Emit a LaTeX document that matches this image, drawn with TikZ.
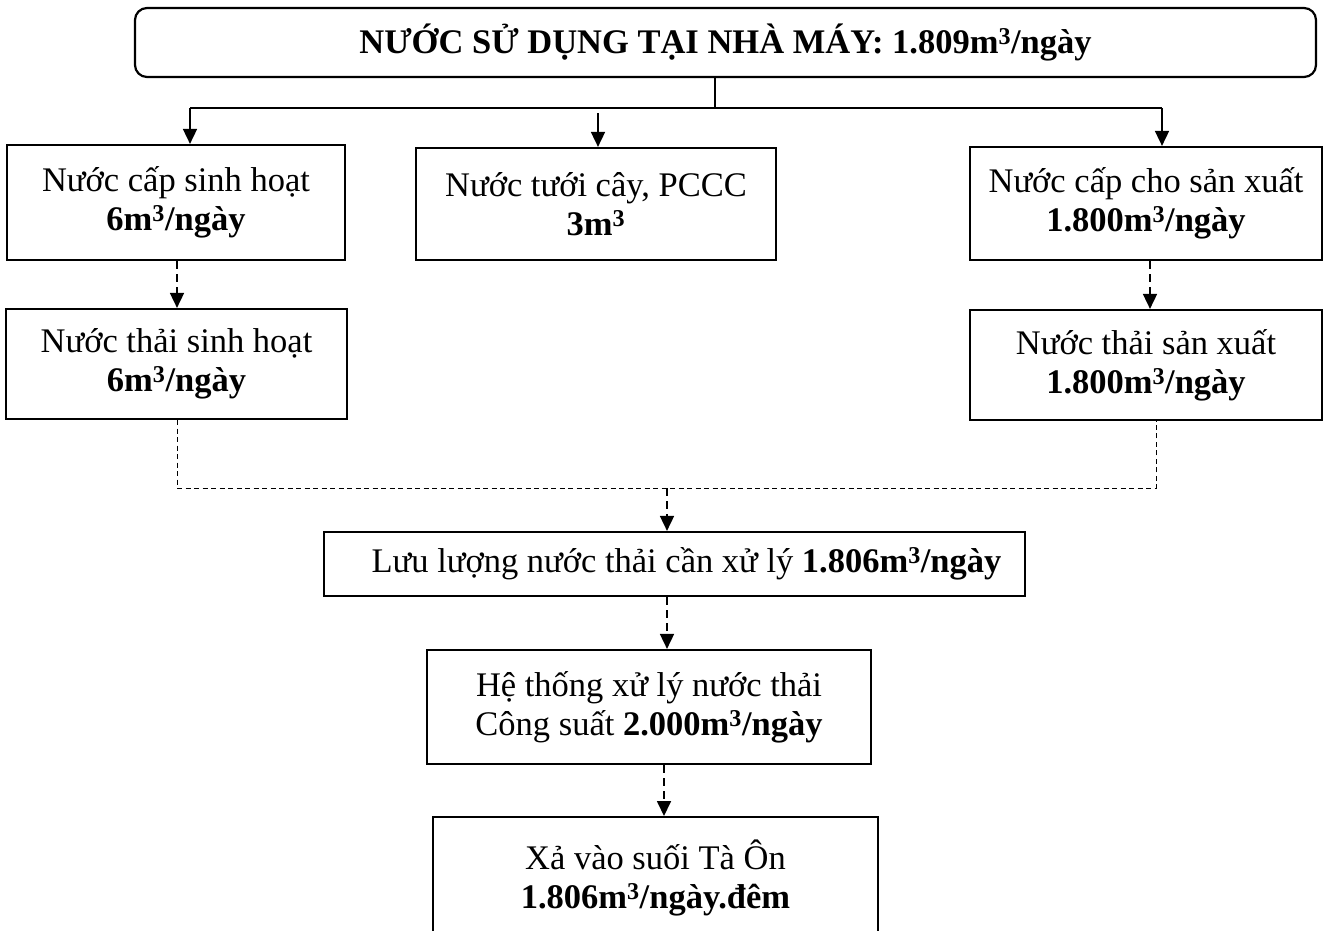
\documentclass[tikz,border=0pt]{standalone}
\usepackage{fontspec}
\setmainfont{Liberation Serif}
\usetikzlibrary{arrows.meta}

% cubic metre unit
\newcommand\cubem{m\textsuperscript{3}}
\newcommand\bodysize{\fontsize{34.5}{39}\selectfont}

\tikzset{
  box/.style={draw, line width=2.2pt, rectangle, inner sep=0pt, align=center, font=\bodysize},
  headbox/.style={box, rounded corners=12pt, font=\bodysize\bfseries},
  link/.style={line width=1.3pt},
  dlink/.style={line width=1pt, dash pattern=on 5pt off 3.5pt},
  arr/.style={line width=1.7pt, -{Triangle[width=14pt,length=15pt]}},
  darr/.style={arr, dash pattern=on 8pt off 5pt},
}

\begin{document}
\begin{tikzpicture}[x=1pt, y=-1pt]
  \useasboundingbox (0,0) rectangle (1330,930);
  \clip (0,0) rectangle (1330,930);

  % header
  \node[headbox, minimum width=1181, minimum height=69] (top) at (725.5,42.5)
    {NƯỚC SỬ DỤNG TẠI NHÀ MÁY: 1.809\cubem/ngày};

  % water supply branches
  \node[box, minimum width=338, minimum height=115] (cs) at (176,202.5)
    {Nước cấp sinh hoạt\\\textbf{6\cubem/ngày}};
  \node[box, minimum width=360, minimum height=112] (tc) at (596,204)
    {Nước tưới cây, PCCC\\\textbf{3\cubem}};
  \node[box, minimum width=352, minimum height=113] (cx) at (1146,203.5)
    {Nước cấp cho sản xuất\\\textbf{1.800\cubem/ngày}};

  % wastewater
  \node[box, minimum width=341, minimum height=110] (ts) at (176.5,364)
    {Nước thải sinh hoạt\\\textbf{6\cubem/ngày}};
  \node[box, minimum width=352, minimum height=110] (tx) at (1146,365)
    {Nước thải sản xuất\\\textbf{1.800\cubem/ngày}};

  % treatment chain
  \node[box, minimum width=701, minimum height=64] (ll) at (674.5,564)
    {\hspace*{24pt}Lưu lượng nước thải cần xử lý \textbf{1.806\cubem/ngày}};
  \node[box, minimum width=444, minimum height=114] (ht) at (649,707)
    {Hệ thống xử lý nước thải\\Công suất \textbf{2.000\cubem/ngày}};
  \node[box, anchor=north, minimum width=445, inner ysep=23pt] (xa) at (655.5,816)
    {Xả vào suối Tà Ôn\\\textbf{1.806\cubem/ngày.đêm}\\[40pt]};

  % distribution lines
  \coordinate (stem) at (715,108);
  \coordinate (hl) at (190,108);
  \coordinate (hr) at (1162,108);
  \coordinate (mt) at (598,113);
  \draw[link] (top.south -| stem) -- (stem);
  \draw[link] (hl) -- (hr);
  \draw[arr] (hl) -- (cs.north -| hl);
  \draw[arr] (mt) -- (tc.north -| mt);
  \draw[arr] (hr) -- (cx.north -| hr);

  % supply to wastewater
  \coordinate (jl) at (177,488);
  \coordinate (jr) at (1156,488);
  \coordinate (rx) at (1150,300);
  \draw[darr] (cs.south -| jl) -- (ts.north -| jl);
  \draw[darr] (cx.south -| rx) -- (tx.north -| rx);

  % collection and treatment
  \coordinate (jm) at (667,488);
  \coordinate (bx) at (664,790);
  \draw[dlink] (ts.south -| jl) -- (jl) -- (jr) -- (tx.south -| jr);
  \draw[darr] (jm) -- (ll.north -| jm);
  \draw[darr] (ll.south -| jm) -- (ht.north -| jm);
  \draw[darr] (ht.south -| bx) -- (xa.north -| bx);
\end{tikzpicture}
\end{document}
